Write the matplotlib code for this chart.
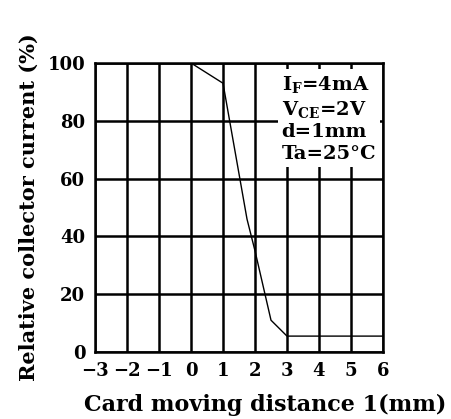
import matplotlib.pyplot as plt

# distance (mm) vs relative collector current (%)
distance = [0, 1, 1.75, 2, 2.5, 3, 6]
current = [100, 93, 46, 35, 11, 5.5, 5.5]

xticks = [-3, -2, -1, 0, 1, 2, 3, 4, 5, 6]
yticks = [0, 20, 40, 60, 80, 100]
conditions = ["I$_{\\mathregular{F}}$=4mA", "V$_{\\mathregular{CE}}$=2V", "d=1mm", "Ta=25°C"]

plt.rcParams['font.family'] = 'DejaVu Serif'
plt.rcParams['font.weight'] = 'bold'
plt.rcParams['axes.labelweight'] = 'bold'
plt.rcParams['mathtext.default'] = 'regular'

fig = plt.figure(figsize=(4.51, 4.19), dpi=100)
ax = fig.add_axes([95 / 451, 67 / 419, 288 / 451, 289 / 419])

ax.plot(distance, current, color='black', lw=1.0, zorder=4)

ax.set_xlim(-3, 6)
ax.set_ylim(0, 100)
ax.set_xticks(xticks)
ax.set_yticks(yticks)
ax.set_xticklabels([str(t).replace('-', '\u2212') for t in xticks])
ax.tick_params(length=0, labelsize=13, pad=7)
ax.grid(True, color='black', lw=1.8)
for s in ax.spines.values():
    s.set_linewidth(1.8)
    s.set_zorder(5)

ax.text(0.648, 0.962, "\n".join(conditions), transform=ax.transAxes,
        ha='left', va='top', fontsize=14, linespacing=1.25, zorder=3,
        bbox=dict(facecolor='white', edgecolor='none', pad=3))

ax.set_xlabel("Card moving distance 1(mm)", fontsize=16)
ax.xaxis.set_label_coords(0.59, -0.145)
ax.set_ylabel("Relative collector current (%)", fontsize=15, labelpad=6)

fig.savefig('out.png', dpi=100)
